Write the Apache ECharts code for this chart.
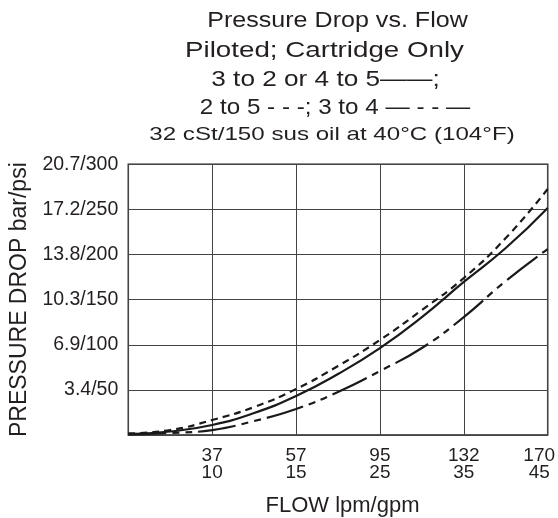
<!DOCTYPE html>
<html>
<head>
<meta charset="utf-8">
<script src="https://cdn.jsdelivr.net/npm/echarts@6/dist/echarts.min.js"></script>
<style>
html,body{margin:0;padding:0;background:#fff;}
#chart{width:558px;height:518px;}
</style>
</head>
<body>
<div id="chart"></div>
<script>
// Tick labels (the flow axis is drawn with evenly spaced divisions)
const flowLpm = ['', '37', '57', '95', '132', '170'];
const flowGpm = ['', '10', '15', '25', '35', '45'];
const pressureBar = ['', '3.4', '6.9', '10.3', '13.8', '17.2', '20.7'];
const pressurePsi = ['', '50', '100', '150', '200', '250', '300'];

// Title lines
const titleLines = [
  'Pressure Drop vs. Flow',
  'Piloted; Cartridge Only',
  '3 to 2 or 4 to 5——;',
  '2 to 5 - - -; 3 to 4 — - - —',
  '32 cSt/150 sus oil at 40°C (104°F)'
];

// Position along the flow axis, in grid divisions (0 .. 5)
const flowPos = [0, 0.5, 1, 1.5, 2, 2.5, 3, 3.5, 4, 4.5, 5];
// Pressure drop, psi
const drop3to2 = [1.1, 3.9, 11.1, 24.4, 43.2, 67.6, 96.3, 130.7, 169.6, 207.2, 251.6]; // 3 to 2 or 4 to 5 (solid)
const drop2to5 = [1.7, 5.5, 16.6, 31.0, 50.9, 76.5, 105.3, 138.5, 174.0, 218.3, 272.6]; // 2 to 5 (short dash)
const drop3to4 = [0.6, 2.2, 5.5, 15.5, 28.8, 47.7, 70.9, 96.4, 130.7, 170.7, 206.1];   // 3 to 4 (long-short dash)

const ink = '#231f20';
const font = 'Liberation Sans';
const pairs = (ys) => flowPos.map((x, i) => [x, ys[i]]);

// title line placement: [centre x, centre y, font size, horizontal stretch]
const titleLayout = [
  [337.5, 21.3, 22, 1.14],
  [324.5, 50.8, 22, 1.26],
  [325.5, 79.5, 22, 1.19],
  [335, 107.5, 22, 1.10],
  [332, 135, 19, 1.27]
];

const chart = echarts.init(document.getElementById('chart'));
chart.setOption({
  animation: false,
  backgroundColor: '#fff',
  graphic: titleLines.map((t, i) => ({
    type: 'text',
    x: titleLayout[i][0], y: titleLayout[i][1],
    scaleX: titleLayout[i][3], scaleY: 1,
    style: {
      text: t, fill: ink, align: 'center', verticalAlign: 'middle',
      font: titleLayout[i][2] + 'px "Liberation Sans", Arial, sans-serif'
    }
  })),
  grid: {
    left: 128.3, right: 10.3, top: 164.3, bottom: 83,
    outerBoundsMode: 'none', containLabel: false,
    show: true, borderColor: '#222', borderWidth: 1.5, backgroundColor: 'transparent'
  },
  xAxis: {
    type: 'value', min: 0, max: 5, interval: 1,
    name: 'FLOW lpm/gpm', nameLocation: 'middle', nameGap: 60,
    nameTextStyle: { fontFamily: font, fontSize: 22, color: ink, padding: [0, 0, 0, 9] },
    axisLine: { show: false }, axisTick: { show: false },
    splitLine: { show: true, lineStyle: { color: '#444', width: 1 } },
    axisLabel: {
      margin: 12, fontFamily: font, fontSize: 19, lineHeight: 17, color: ink,
      showMinLabel: true, showMaxLabel: true,
      formatter: (v) => {
        const i = Math.round(v);
        if (!flowLpm[i]) return '';
        if (i === flowLpm.length - 1) return '{r|' + flowLpm[i] + '}\n{r|' + flowGpm[i] + '}';
        return flowLpm[i] + '\n' + flowGpm[i];
      },
      rich: { r: { fontFamily: font, fontSize: 19, lineHeight: 17, color: ink, padding: [0, 17, 0, 0] } }
    }
  },
  yAxis: {
    type: 'value', min: 0, max: 300, interval: 50,
    name: 'PRESSURE DROP bar/psi', nameLocation: 'middle', nameGap: 97,
    nameTextStyle: { fontFamily: font, fontSize: 23, color: ink },
    axisLine: { show: false }, axisTick: { show: false },
    splitLine: { show: true, lineStyle: { color: '#444', width: 1 } },
    axisLabel: {
      margin: 10, fontFamily: font, fontSize: 19.5, color: ink,
      formatter: (v) => {
        const i = Math.round(v / 50);
        return pressureBar[i] ? pressureBar[i] + '/' + pressurePsi[i] : '';
      }
    }
  },
  series: [
    { name: '3 to 2 or 4 to 5', type: 'line', smooth: true, showSymbol: false, data: pairs(drop3to2),
      lineStyle: { color: '#1a1a1a', width: 2.2, type: 'solid' } },
    { name: '2 to 5', type: 'line', smooth: true, showSymbol: false, data: pairs(drop2to5),
      lineStyle: { color: '#1a1a1a', width: 2.2, type: [7, 5] } },
    { name: '3 to 4', type: 'line', smooth: true, showSymbol: false, data: pairs(drop3to4),
      lineStyle: { color: '#1a1a1a', width: 2.2, type: [38, 6, 7, 6, 7, 6] } }
  ]
});
</script>
</body>
</html>
